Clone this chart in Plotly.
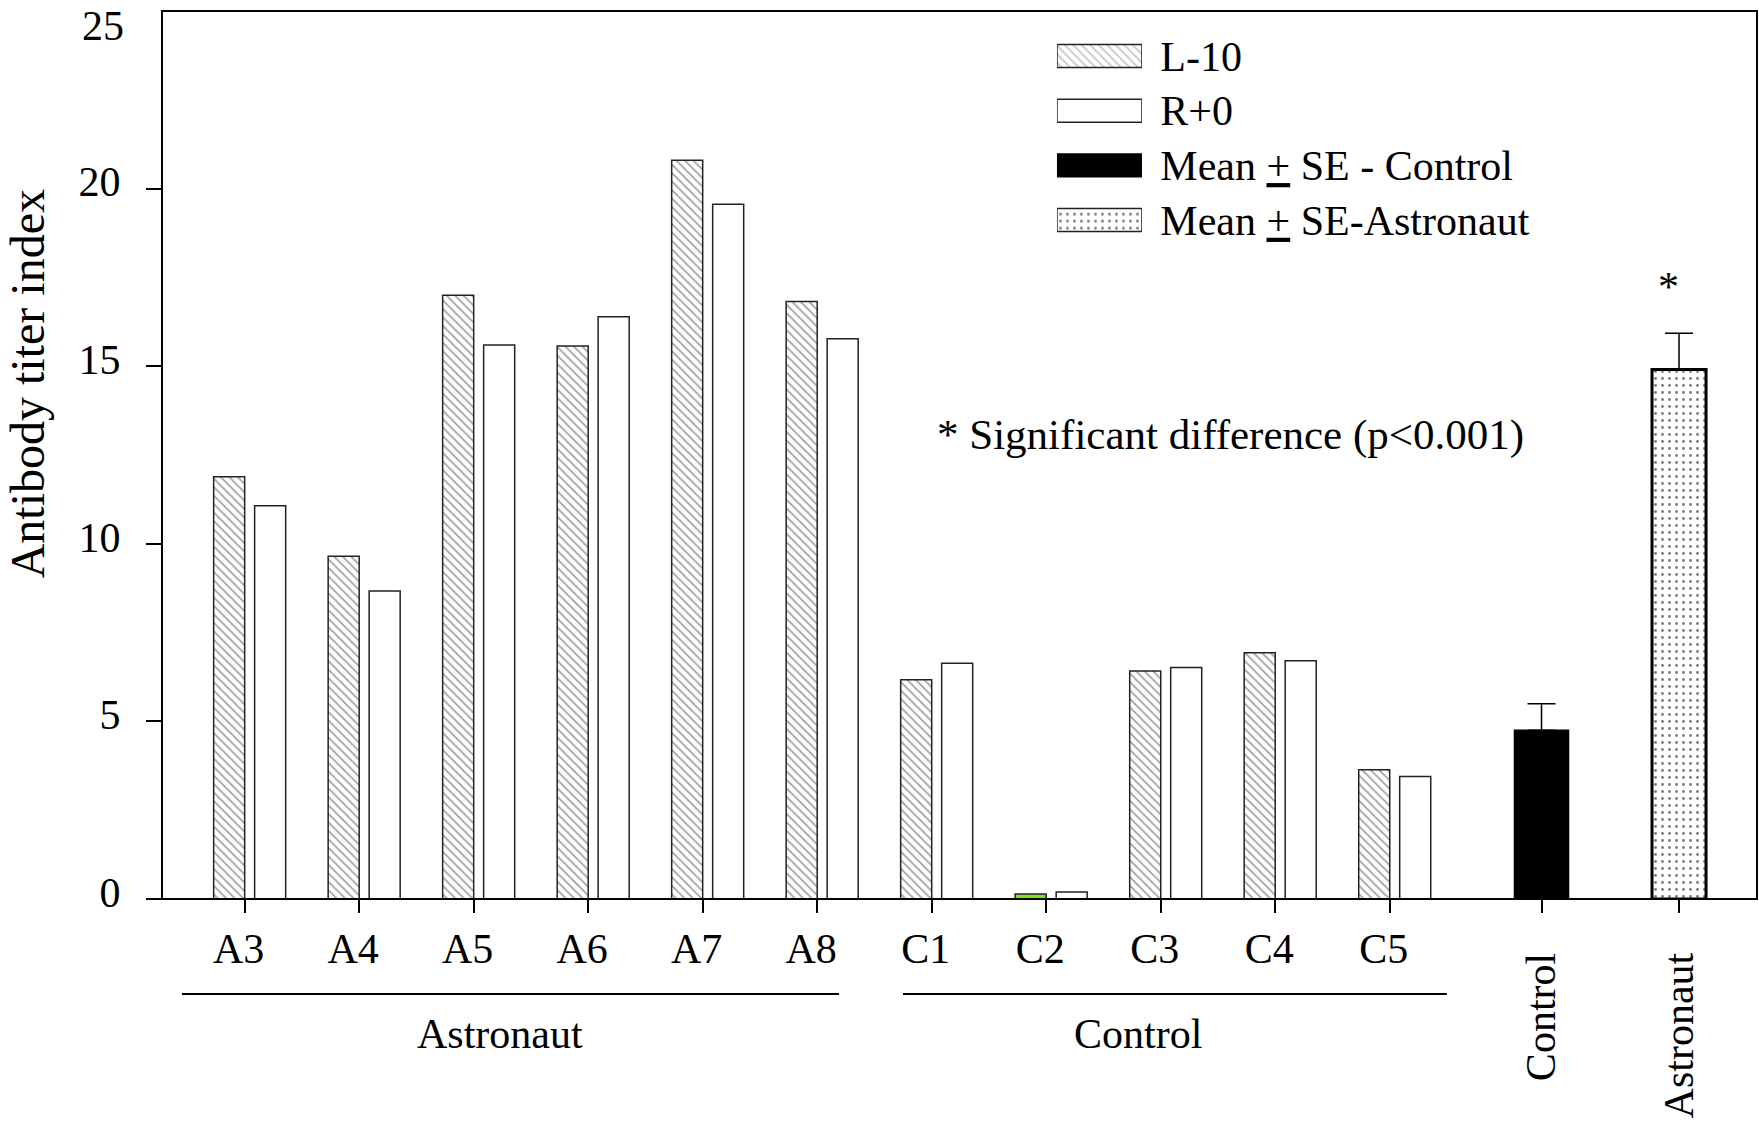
import plotly.graph_objects as go

# ---------------- data ----------------
subjects = ["A3", "A4", "A5", "A6", "A7", "A8", "C1", "C2", "C3", "C4", "C5"]
l10_values = [11.89, 9.65, 17.00, 15.57, 20.80, 16.82, 6.17, 0.14, 6.42, 6.93, 3.64]
r0_values = [11.07, 8.67, 15.60, 16.39, 19.56, 15.77, 6.64, 0.20, 6.52, 6.71, 3.45]
group_names = ["Control", "Astronaut"]
group_means = [4.75, 14.91]
group_se = [0.75, 1.02]
legend_labels = ["L-10", "R+0", "Mean <u>+</u> SE - Control", "Mean <u>+</u> SE-Astronaut"]
y_ticks = [0, 5, 10, 15, 20]
y_top = 25
y_title = "Antibody titer index"
group_label_texts = ["Astronaut", "Control"]
significance_note = "* Significant difference (p<0.001)"
highlight_subject = "C2"

# ---------------- styles ----------------
FONT = "Liberation Serif, Times New Roman, serif"
FS = 42
EDGE = "#222222"
HATCH_FG = "#8c8c8c"
GREEN = "#7fe021"

l10_colors = [GREEN if s == highlight_subject else "white" for s in subjects]
l10_shapes = ["" if s == highlight_subject else "\\" for s in subjects]

BAR_W = 0.271
GAP = 0.087

fig = go.Figure()

# individual bars
fig.add_trace(go.Bar(
    x=subjects, y=l10_values, name="L-10", width=BAR_W, offset=-BAR_W,
    marker=dict(color=l10_colors, line=dict(color=EDGE, width=1.5),
                pattern=dict(shape=l10_shapes, fillmode="overlay", fgcolor=HATCH_FG,
                             size=6, solidity=0.3)),
    xaxis="x", yaxis="y", showlegend=False))
fig.add_trace(go.Bar(
    x=subjects, y=r0_values, name="R+0", width=BAR_W, offset=GAP,
    marker=dict(color="white", line=dict(color=EDGE, width=1.5)),
    xaxis="x", yaxis="y", showlegend=False))

# mean bars
MW = 0.393
DOTS = dict(shape=".", fillmode="overlay", fgcolor="black", size=7, solidity=0.14)
fig.add_trace(go.Bar(
    x=[group_names[0]], y=[group_means[0]], width=MW, offset=-MW / 2,
    marker=dict(color="black", line=dict(color="black", width=1.5)),
    error_y=dict(type="data", symmetric=False, array=[group_se[0]], arrayminus=[0],
                 color="black", thickness=1.5, width=14),
    xaxis="x2", yaxis="y", showlegend=False))
fig.add_trace(go.Bar(
    x=[group_names[1]], y=[group_means[1]], width=MW, offset=-MW / 2,
    marker=dict(color="white", line=dict(color="black", width=3), pattern=DOTS),
    error_y=dict(type="data", symmetric=False, array=[group_se[1]], arrayminus=[0],
                 color="black", thickness=1.5, width=14),
    xaxis="x2", yaxis="y", showlegend=False))

# legend swatches (drawn as bars on a small helper subplot)
swatch_styles = [
    dict(color="white", line=dict(color=EDGE, width=1.5),
         pattern=dict(shape="\\", fillmode="overlay", fgcolor=HATCH_FG, size=6, solidity=0.3)),
    dict(color="white", line=dict(color=EDGE, width=1.5)),
    dict(color="black", line=dict(color="black", width=1.5)),
    dict(color="white", line=dict(color=EDGE, width=1.5), pattern=DOTS),
]
for lab, st in zip(legend_labels, swatch_styles):
    fig.add_trace(go.Bar(
        y=[lab], x=[1], orientation="h", base=0, width=0.42, offset=-0.21,
        marker=st, xaxis="x3", yaxis="y3", showlegend=False, hoverinfo="skip"))

X1_END = 0.82006

axis_common = dict(showgrid=False, zeroline=False, showline=False, automargin=False,
                   tickfont=dict(family=FONT, size=FS, color="black"),
                   ticks="outside", tickcolor="black")

fig.update_layout(
    template="none",
    width=1759, height=1128,
    margin=dict(l=162, r=2, t=11, b=229, autoexpand=False),
    paper_bgcolor="white", plot_bgcolor="white",
    barmode="overlay", showlegend=False,
    font=dict(family=FONT, size=FS, color="black"),
    xaxis=dict(**axis_common, type="category", categoryorder="array", categoryarray=subjects,
               domain=[0, X1_END], range=[-0.722, 10.701], anchor="y",
               ticklen=13, tickwidth=1.5, ticklabelshift=-6, ticklabelstandoff=0),
    xaxis2=dict(**axis_common, type="category", categoryorder="array", categoryarray=group_names,
                domain=[X1_END, 1], range=[-0.52, 1.567], anchor="y",
                ticklen=13, tickwidth=1.5, tickangle=-90, ticklabelstandoff=23),
    yaxis=dict(**axis_common, range=[0, y_top], tickvals=y_ticks, domain=[0, 1], anchor="x",
               ticklen=15, tickwidth=1.5, ticklabelstandoff=17, ticklabelshift=-7),
    xaxis3=dict(domain=[0.5611, 0.6144], range=[0, 1], visible=False, anchor="y3",
                fixedrange=True, automargin=False),
    yaxis3=dict(domain=[0.7338, 0.9801], anchor="x3", type="category", automargin=False,
                categoryorder="array", categoryarray=legend_labels, range=[3.5, -0.5],
                side="right", ticks="outside", ticklen=9, tickcolor="rgba(0,0,0,0)",
                showline=False, showgrid=False, zeroline=False,
                tickfont=dict(family=FONT, size=FS, color="black")),
)

# frame and group lines
fig.add_shape(type="rect", xref="paper", yref="paper", x0=0, x1=1, y0=0, y1=1,
              line=dict(color="black", width=2), layer="above")
fig.add_shape(type="line", xref="paper", yref="paper", x0=0.0125, x1=0.4245,
              y0=-0.107, y1=-0.107, line=dict(color="black", width=2))
fig.add_shape(type="line", xref="paper", yref="paper", x0=0.4646, x1=0.8056,
              y0=-0.107, y1=-0.107, line=dict(color="black", width=2))

# texts
fig.add_annotation(text=y_title, textangle=-90, xref="paper", yref="paper",
                   x=-0.0838, y=0.580, xanchor="center", yanchor="middle", borderpad=0,
                   showarrow=False, font=dict(family=FONT, size=48, color="black"))
fig.add_annotation(text=str(y_top), xref="paper", yref="y", x=0, y=y_top,
                   xanchor="right", yanchor="middle", xshift=-37, yshift=-15, borderpad=0,
                   showarrow=False, font=dict(family=FONT, size=FS, color="black"))
fig.add_annotation(text=significance_note, xref="paper", yref="paper",
                   x=0.4845, y=0.5225, xanchor="left", yanchor="middle",
                   showarrow=False, font=dict(family=FONT, size=43, color="black"))
fig.add_annotation(text="*", xref="x2", yref="y", x=group_names[1],
                   y=group_means[1] + group_se[1] + 1.3, xshift=-11,
                   xanchor="center", yanchor="middle", showarrow=False,
                   font=dict(family=FONT, size=FS, color="black"))
for txt, xc in zip(group_label_texts, [0.2119, 0.6116]):
    fig.add_annotation(text=txt, xref="paper", yref="paper", x=xc, y=-0.152,
                       xanchor="center", yanchor="middle", showarrow=False,
                       font=dict(family=FONT, size=FS, color="black"))

fig.write_html("out.html", config={"displayModeBar": False},
               post_script="document.body.style.margin='0';")
